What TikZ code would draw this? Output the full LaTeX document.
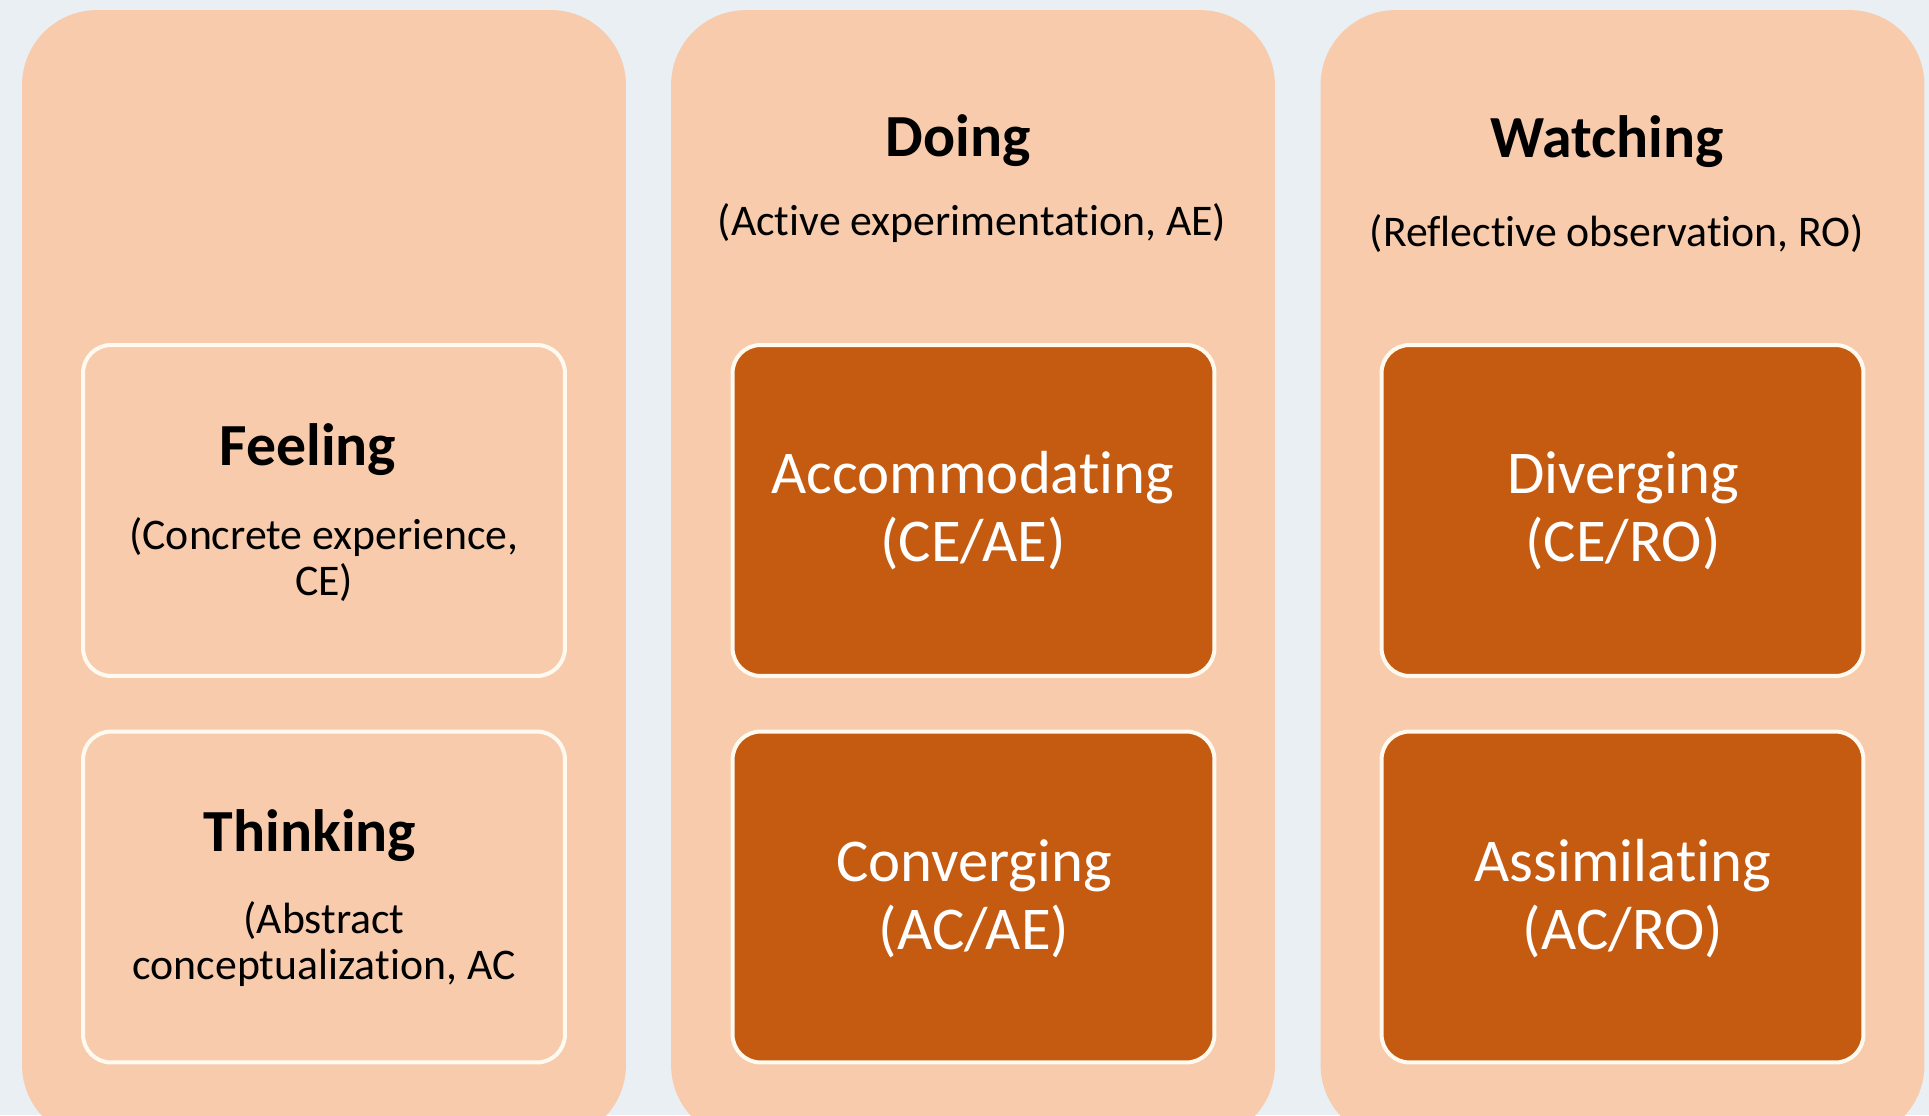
\documentclass[tikz,border=0pt]{standalone}
\usepackage{fontspec}
\setmainfont{Carlito}[Ligatures=NoCommon]
\definecolor{bggrey}{RGB}{233,239,243}
\definecolor{peach}{RGB}{247,203,172}
\definecolor{rust}{RGB}{197,90,17}
\definecolor{cream}{RGB}{255,250,240}

\begin{document}
\begin{tikzpicture}[x=0.02cm, y=-0.02cm,
		column/.style={rectangle, fill=peach, rounded corners=1.5cm, minimum width=12.08cm, minimum height=22.6cm},
		lightbox/.style={rectangle, draw=cream, line width=0.08cm, fill=peach, rounded corners=0.56cm, minimum width=9.64cm, minimum height=6.62cm},
		darkbox/.style={lightbox, fill=rust},
		headtext/.style={anchor=base, font=\fontsize{34}{40}\selectfont\bfseries},
		subtext/.style={anchor=base, align=center, font=\fontsize{24.9}{26.1}\selectfont},
		styletext/.style={anchor=base, align=center, text=white, font=\fontsize{34.6}{38.5}\selectfont}]
		\useasboundingbox (0, 0) rectangle (1929, 1115);
		\clip (0, 0) rectangle (1929, 1115);
		\fill[bggrey] (0, 0) rectangle (1929, 1115);

		% three columns
		\node[column] (feelcol) at (324, 575) {};
		\node[column] (doingcol) at (973, 575) {};
		\node[column] (watchcol) at (1622.5, 575) {};

		% base of a node = baseline of its last line
		\node[headtext] (doing) at (958, 156) {Doing};
		\node[subtext] (doingsub) at (972, 235) {(Active experimentation, AE)};
		\node[headtext] (watching) at (1607, 157) {Watching};
		\node[subtext] (watchingsub) at (1617, 246) {(Reflective observation, RO)};

		% left column
		\node[lightbox] (feelbox) at (324, 510.5) {};
		\node[headtext] (feeling) at (308, 465) {Feeling};
		\node[subtext] (feelingsub) at (324, 595) {(Concrete experience,\\CE)};

		\node[lightbox] (thinkbox) at (324, 897) {};
		\node[headtext] (thinking) at (310, 851) {Thinking};
		\node[subtext] (thinkingsub) at (324, 979) {(Abstract\\conceptualization, AC};

		% learning styles
		\node[darkbox] (accbox) at (973.5, 510.5) {};
		\node[styletext] (acc) at (973, 561) {Accommodating\\(CE/AE)};
		\node[darkbox] (convbox) at (973.5, 897) {};
		\node[styletext] (conv) at (974, 949) {Converging\\(AC/AE)};

		\node[darkbox] (divbox) at (1622.5, 510.5) {};
		\node[styletext] (div) at (1623, 561) {Diverging\\(CE/RO)};
		\node[darkbox] (assimbox) at (1622.5, 897) {};
		\node[styletext] (assim) at (1623, 949) {Assimilating\\(AC/RO)};
\end{tikzpicture}
\end{document}
